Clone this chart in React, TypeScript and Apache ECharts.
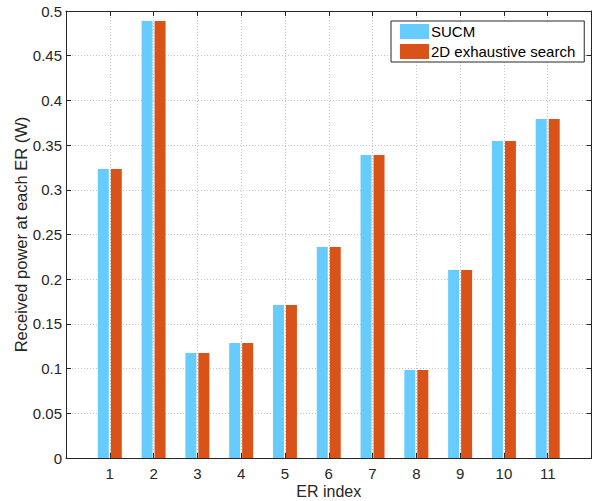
import React, { useEffect, useRef } from "react";
import * as echarts from "echarts";

const erIndex = [1, 2, 3, 4, 5, 6, 7, 8, 9, 10, 11];
const sucm = [0.3233, 0.4888, 0.1174, 0.1286, 0.1711, 0.236, 0.339, 0.0984, 0.2103, 0.3546, 0.3792];
const exhaustive = [0.3233, 0.4888, 0.1174, 0.1286, 0.1711, 0.236, 0.339, 0.0984, 0.2103, 0.3546, 0.3792];
const seriesNames = ["SUCM", "2D exhaustive search"];
const xAxisName = "ER index";
const yAxisName = "Received power at each ER (W)";

const FONT = "Liberation Sans, Arial, Helvetica, sans-serif";
const AX = "#262626";
const GRIDC = "#c4c4c4";

export default function App() {
  const ref = useRef<HTMLDivElement>(null);
  useEffect(() => {
    if (!ref.current) return;
    const chart = echarts.init(ref.current, undefined, { renderer: "svg" });
    const xCommon = {
      type: "value" as const,
      min: 0,
      max: 12,
      interval: 1,
    };
    const yCommon = {
      type: "value" as const,
      min: 0,
      max: 0.5,
      interval: 0.05,
    };
    chart.setOption({
      animation: false,
      backgroundColor: "#ffffff",
      textStyle: { fontFamily: FONT },
      grid: { left: 66, right: 0.5, top: 11, bottom: 43, containLabel: false, outerBoundsMode: "none" },
      legend: {
        orient: "vertical",
        left: 391,
        top: 21,
        itemWidth: 29,
        itemHeight: 15,
        itemGap: 5,
        padding: [3, 9, 3, 9],
        borderColor: AX,
        borderWidth: 1,
        backgroundColor: "#ffffff",
        icon: "rect",
        textStyle: { fontFamily: FONT, fontSize: 15, color: "#000", padding: [0, 0, 0, -3] },
        data: seriesNames,
      },
      xAxis: [
        {
          ...xCommon,
          position: "bottom",
          name: xAxisName,
          nameLocation: "middle",
          nameGap: 25,
          nameMoveOverlap: false,
          nameTextStyle: { fontFamily: FONT, fontSize: 16, lineHeight: 16, color: AX },
          axisLine: { show: true, onZero: false, lineStyle: { color: AX, width: 1 } },
          axisTick: { show: true, inside: true, length: 5, lineStyle: { color: AX } },
          axisLabel: {
            fontFamily: FONT,
            fontSize: 15,
            color: AX,
            margin: 8,
            formatter: (v: number) => (v >= 1 && v <= 11 ? String(v) : ""),
          },
          splitLine: { show: true, lineStyle: { color: GRIDC, type: [1, 2], width: 1 } },
        },
        {
          ...xCommon,
          position: "top",
          axisLine: { show: true, onZero: false, lineStyle: { color: AX, width: 1 } },
          axisTick: { show: true, inside: true, length: 5, lineStyle: { color: AX } },
          axisLabel: { show: false },
          splitLine: { show: false },
        },
      ],
      yAxis: [
        {
          ...yCommon,
          position: "left",
          name: yAxisName,
          nameLocation: "middle",
          nameGap: 37,
          nameMoveOverlap: false,
          nameTextStyle: { fontFamily: FONT, fontSize: 16.5, color: AX },
          axisLine: { show: true, onZero: false, lineStyle: { color: AX, width: 1 } },
          axisTick: { show: true, inside: true, length: 5, lineStyle: { color: AX } },
          axisLabel: {
            fontFamily: FONT,
            fontSize: 15,
            color: AX,
            margin: 4,
            formatter: (v: number) => String(+v.toFixed(2)),
          },
          splitLine: { show: true, lineStyle: { color: GRIDC, type: [1, 2], width: 1 } },
        },
        {
          ...yCommon,
          position: "right",
          axisLine: { show: true, onZero: false, lineStyle: { color: AX, width: 1 } },
          axisTick: { show: true, inside: true, length: 5, lineStyle: { color: AX } },
          axisLabel: { show: false },
          splitLine: { show: false },
        },
      ],
      series: [
        {
          name: seriesNames[0],
          type: "bar",
          xAxisIndex: 0,
          yAxisIndex: 0,
          barWidth: 11,
          barGap: "18%",
          itemStyle: { color: "#66CCFF" },
          data: erIndex.map((x, i) => [x, sucm[i]]),
        },
        {
          name: seriesNames[1],
          type: "bar",
          xAxisIndex: 0,
          yAxisIndex: 0,
          barWidth: 11,
          barGap: "18%",
          itemStyle: { color: "#D95319" },
          data: erIndex.map((x, i) => [x, exhaustive[i]]),
        },
      ],
    });
    return () => chart.dispose();
  }, []);
  return (
    <div
      ref={ref}
      style={{ position: "fixed", left: 0, top: 0, width: 592, height: 501, background: "#fff" }}
    />
  );
}
